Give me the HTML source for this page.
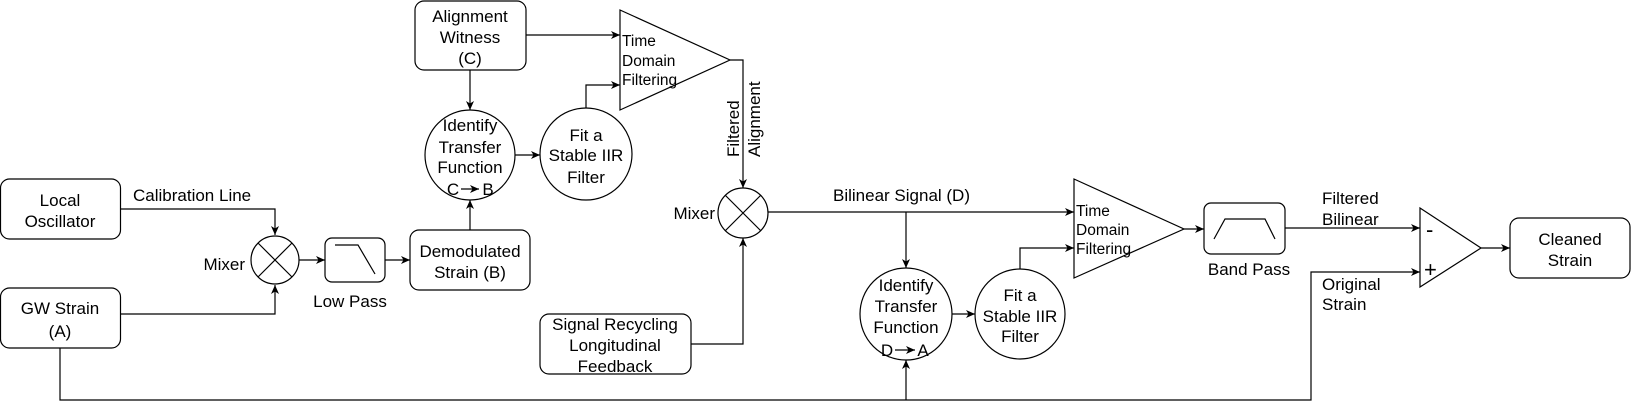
<!DOCTYPE html>
<html><head><meta charset="utf-8"><style>
html,body{margin:0;padding:0;background:#fff;}
svg{display:block;}
text{font-family:"Liberation Sans",Arial,sans-serif;font-size:17px;fill:#000;}
.s{font-size:15.5px;}
.c{text-anchor:middle;}
</style></head><body>
<svg width="1632" height="410" viewBox="0 0 1632 410" xmlns="http://www.w3.org/2000/svg">
<defs>
<marker id="a" markerUnits="userSpaceOnUse" markerWidth="10" markerHeight="8" refX="9" refY="4" orient="auto"><path d="M0,0 L9,4 L0,8 L2.5,4 Z" fill="#000"/></marker>
</defs>
<g fill="none" stroke="#000" stroke-width="1.2">
<!-- boxes -->
<rect x="0.5" y="179" width="120" height="60" rx="9"/>
<rect x="0.5" y="288" width="120" height="60" rx="9"/>
<rect x="410" y="230" width="120" height="60" rx="9"/>
<rect x="415" y="1" width="111" height="69" rx="9"/>
<rect x="540" y="314" width="151" height="60" rx="9"/>
<rect x="1510" y="218" width="120" height="60" rx="9"/>
<rect x="325" y="238" width="60" height="44" rx="7"/>
<path d="M335,245 L358,245 L375,274"/>
<rect x="1204" y="203" width="81" height="51" rx="7"/>
<path d="M1214,239 L1225,219 L1265,219 L1275,239"/>
<!-- mixers -->
<circle cx="275" cy="260" r="24"/>
<path d="M258,243 L292,277 M292,243 L258,277"/>
<circle cx="743" cy="213" r="25"/>
<path d="M725,195 L761,231 M761,195 L725,231"/>
<!-- circles -->
<circle cx="470" cy="155" r="45"/>
<circle cx="586" cy="154" r="46"/>
<circle cx="906" cy="314" r="46"/>
<circle cx="1020" cy="314" r="45"/>
<!-- triangles -->
<path d="M620,10 L730,60 L620,110 Z"/>
<path d="M1074,179 L1184,229 L1074,278 Z"/>
<path d="M1420,208 L1481,248 L1420,287 Z"/>
<!-- connectors -->
<path d="M120,209 L275,209 L275,235" marker-end="url(#a)"/>
<path d="M120,314 L275,314 L275,285" marker-end="url(#a)"/>
<path d="M299,260 L325,260" marker-end="url(#a)"/>
<path d="M385,260 L410,260" marker-end="url(#a)"/>
<path d="M470,230 L470,200" marker-end="url(#a)"/>
<path d="M470,70 L470,110" marker-end="url(#a)"/>
<path d="M526,35 L620,35" marker-end="url(#a)"/>
<path d="M515,155 L540,155" marker-end="url(#a)"/>
<path d="M586,108 L586,85 L620,85" marker-end="url(#a)"/>
<path d="M730,60 L743,60 L743,188" marker-end="url(#a)"/>
<path d="M691,344 L743,344 L743,238" marker-end="url(#a)"/>
<path d="M768,212 L1074,212" marker-end="url(#a)"/>
<path d="M906,212 L906,268" marker-end="url(#a)"/>
<path d="M952,314 L975,314" marker-end="url(#a)"/>
<path d="M1020,269 L1020,248 L1074,248" marker-end="url(#a)"/>
<path d="M1184,229 L1204,229" marker-end="url(#a)"/>
<path d="M1285,228 L1420,228" marker-end="url(#a)"/>
<path d="M60,348 L60,400 L1311,400 L1311,272 L1420,272" marker-end="url(#a)"/>
<path d="M906,400 L906,360" marker-end="url(#a)"/>
<path d="M1481,248 L1510,248" marker-end="url(#a)"/>
<path d="M461,189 L479,189" marker-end="url(#a)"/>
<path d="M895,350 L915,350" marker-end="url(#a)"/>
</g>
<!-- labels -->
<text class="c" x="60" y="206">Local</text>
<text class="c" x="60" y="227">Oscillator</text>
<text class="c" x="60" y="314">GW Strain</text>
<text class="c" x="60" y="337">(A)</text>
<text x="133" y="201">Calibration Line</text>
<text x="245" y="270" text-anchor="end">Mixer</text>
<text class="c" x="350" y="307">Low Pass</text>
<text class="c" x="470" y="257">Demodulated</text>
<text class="c" x="470" y="278">Strain (B)</text>
<text class="c" x="470" y="22">Alignment</text>
<text class="c" x="470" y="43">Witness</text>
<text class="c" x="470" y="64">(C)</text>
<text class="c" x="470" y="131">Identify</text>
<text class="c" x="470" y="153">Transfer</text>
<text class="c" x="470" y="173">Function</text>
<text class="c" x="453" y="195">C</text>
<text class="c" x="488" y="195">B</text>
<text class="c" x="586" y="141">Fit a</text>
<text class="c" x="586" y="161">Stable IIR</text>
<text class="c" x="586" y="183">Filter</text>
<text class="s" x="622" y="46">Time</text>
<text class="s" x="622" y="66">Domain</text>
<text class="s" x="622" y="85">Filtering</text>
<text transform="translate(739,157) rotate(-90)">Filtered</text>
<text transform="translate(760,157) rotate(-90)">Alignment</text>
<text x="715" y="219" text-anchor="end">Mixer</text>
<text x="833" y="201">Bilinear Signal (D)</text>
<text class="c" x="615" y="330">Signal Recycling</text>
<text class="c" x="615" y="351">Longitudinal</text>
<text class="c" x="615" y="372">Feedback</text>
<text class="c" x="906" y="291">Identify</text>
<text class="c" x="906" y="312">Transfer</text>
<text class="c" x="906" y="333">Function</text>
<text class="c" x="887" y="356">D</text>
<text class="c" x="923" y="356">A</text>
<text class="c" x="1020" y="301">Fit a</text>
<text class="c" x="1020" y="322">Stable IIR</text>
<text class="c" x="1020" y="342">Filter</text>
<text class="s" x="1076" y="216">Time</text>
<text class="s" x="1076" y="235">Domain</text>
<text class="s" x="1076" y="254">Filtering</text>
<text class="c" x="1249" y="275">Band Pass</text>
<text x="1322" y="204">Filtered</text>
<text x="1322" y="225">Bilinear</text>
<text x="1322" y="290">Original</text>
<text x="1322" y="310">Strain</text>
<text x="1426" y="237" style="font-size:22px">-</text>
<text x="1424" y="277" style="font-size:22px">+</text>
<text class="c" x="1570" y="245">Cleaned</text>
<text class="c" x="1570" y="266">Strain</text>
</svg>
</body></html>
